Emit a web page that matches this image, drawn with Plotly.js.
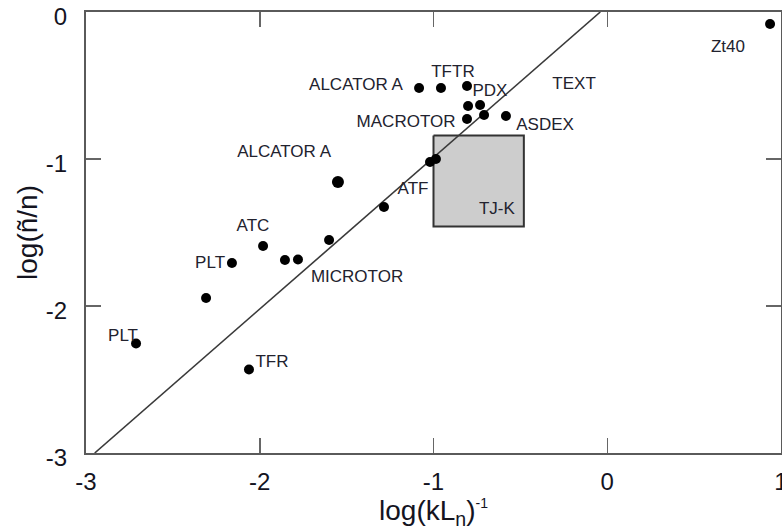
<!DOCTYPE html>
<html>
<head>
<meta charset="utf-8">
<script src="https://cdn.plot.ly/plotly-3.0.1.min.js"></script>
<style>
html,body{margin:0;padding:0;background:#fff;overflow:hidden;}
#chart{width:782px;height:530px;}
</style>
</head>
<body>
<div id="chart"></div>
<script>
// Measured points: log(kLn)^-1 vs log(ñ/n)
const pointX = [-1.083, -0.957, -0.807, -0.801, -0.732, -0.807, -0.709, -0.583, -1.020, -0.986,
                -1.285, -1.601, -1.780, -1.855, -1.981, -2.160, -2.309, -2.712, -2.062, 0.937];
const pointY = [-0.517, -0.517, -0.503, -0.639, -0.633, -0.728, -0.701, -0.707, -1.020, -1.000,
                -1.327, -1.551, -1.684, -1.687, -1.592, -1.707, -1.946, -2.255, -2.432, -0.082];
// ALCATOR A (lower) point, drawn slightly larger
const bigX = [-1.550];
const bigY = [-1.156];

// Device labels
const labelText = ["ALCATOR A", "TFTR", "PDX", "TEXT", "MACROTOR", "ASDEX", "ALCATOR A", "ATF",
                   "TJ-K", "ATC", "PLT", "MICROTOR", "PLT", "TFR", "Zt40"];
const labelX = [-1.446, -0.888, -0.675, -0.191, -1.158, -0.358, -1.860, -1.118,
                -0.635, -2.039, -2.286, -1.440, -2.787, -1.930, 0.695];
const labelY = [-0.503, -0.415, -0.544, -0.497, -0.755, -0.776, -0.959, -1.211,
                -1.347, -1.463, -1.714, -1.810, -2.211, -2.388, -0.245];

// Reference line (mixing-length level)
const lineX = [-2.95, -0.04];
const lineY = [-3.0, 0.0];

// TJ-K region
const boxX = [-1.0, -0.48, -0.48, -1.0, -1.0];
const boxY = [-0.84, -0.84, -1.46, -1.46, -0.84];

// Axis ticks
const xTicks = [-3, -2, -1, 0, 1];
const yTicks = [-3, -2, -1, 0];

const FONT = '"Liberation Sans", Arial, Helvetica, sans-serif';

const traces = [
  {x: boxX, y: boxY, type: 'scatter', mode: 'lines', fill: 'toself',
   fillcolor: '#cdcdcd', line: {color: '#333333', width: 2}, hoverinfo: 'skip', showlegend: false},
  {x: lineX, y: lineY, type: 'scatter', mode: 'lines',
   line: {color: '#3a3a3a', width: 1.6}, hoverinfo: 'skip', showlegend: false},
  {x: pointX, y: pointY, type: 'scatter', mode: 'markers',
   marker: {color: '#000000', size: 10}, showlegend: false},
  {x: bigX, y: bigY, type: 'scatter', mode: 'markers',
   marker: {color: '#000000', size: 12}, showlegend: false},
  {x: labelX, y: labelY, text: labelText, type: 'scatter', mode: 'text',
   textposition: 'middle center',
   textfont: {family: FONT, size: 17, color: '#22222e'}, hoverinfo: 'skip', showlegend: false}
];

const axisCommon = {
  showgrid: false, zeroline: false,
  showline: true, linecolor: '#5a5a5a', linewidth: 2, mirror: 'ticks',
  ticks: 'inside', ticklen: 15, tickwidth: 1.5, tickcolor: '#666666',
  ticklabeloverflow: 'allow',
  tickfont: {family: FONT, size: 24, color: '#14141f'}
};

const layout = {
  width: 782, height: 530,
  margin: {l: 86, r: 1, t: 12, b: 77, pad: 0},
  paper_bgcolor: '#ffffff', plot_bgcolor: '#ffffff',
  showlegend: false,
  xaxis: Object.assign({}, axisCommon, {
    range: [-3, 1], tickvals: xTicks, ticktext: xTicks.map(String),
    ticklabelstandoff: 6,
    title: {text: 'log(kL<sub>n</sub>)<sup><span style="font-size:14px">-1</span></sup>', standoff: 0,
            font: {family: FONT, size: 28, color: '#14141f'}}
  }),
  yaxis: Object.assign({}, axisCommon, {
    range: [-3, 0], tickvals: yTicks, ticktext: yTicks.map(String),
    ticklabelstandoff: 12, ticklabelshift: 5,
    title: {text: 'log(ñ/n)', standoff: 0,
            font: {family: FONT, size: 28, color: '#14141f'}}
  })
};

Plotly.newPlot('chart', traces, layout, {displayModeBar: false, staticPlot: true});
</script>
</body>
</html>
